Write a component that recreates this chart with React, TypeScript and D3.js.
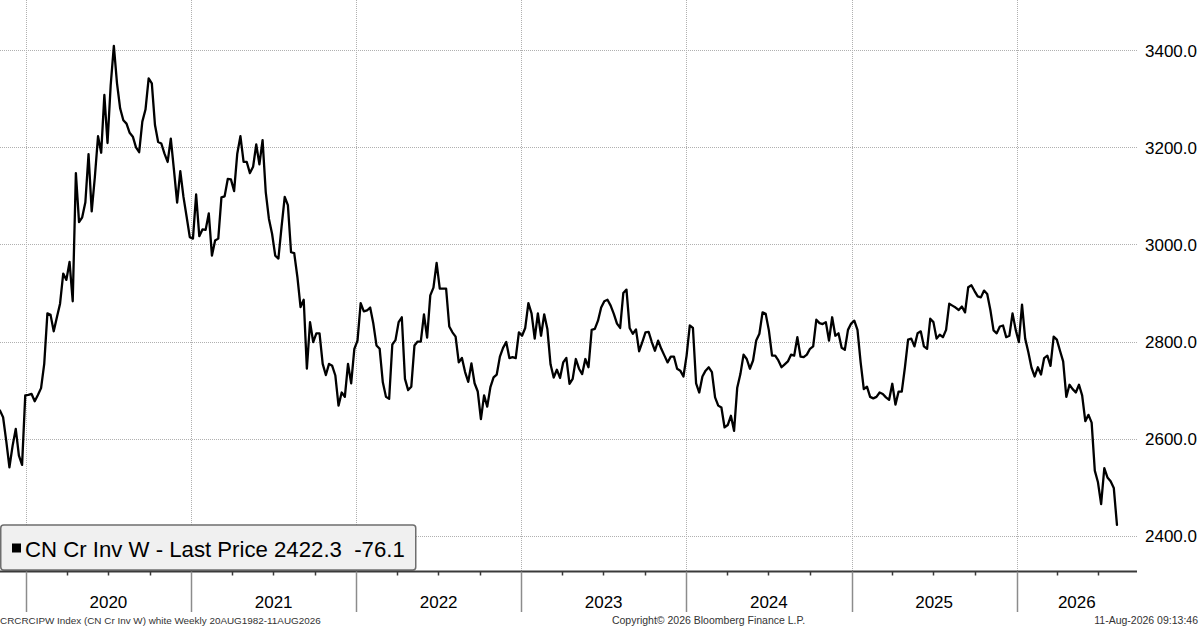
import * as d3 from 'd3'

// weekly closes, CN Cr Inv W (CRCRCIPW Index)
const firstWeek = Date.UTC(2019, 10, 5)
const tail2019 = [2658, 2644, 2595, 2541, 2585, 2620, 2565, 2546, 2689]
const values2020 = [2690, 2692, 2677, 2690, 2704, 2754, 2858, 2855, 2821, 2850, 2878, 2940, 2927, 2964, 2883, 3147, 3046, 3056, 3087, 3186, 3068, 3139, 3223, 3189, 3308, 3209, 3328, 3409, 3332, 3280, 3256, 3249, 3230, 3222, 3200, 3190, 3253, 3278, 3342, 3332, 3246, 3211, 3208, 3187, 3170, 3218, 3153, 3086, 3151, 3098, 3057, 3015]
const values2021 = [3012, 3103, 3017, 3031, 3030, 3064, 2977, 3008, 3012, 3097, 3099, 3135, 3134, 3110, 3187, 3223, 3170, 3170, 3147, 3160, 3206, 3165, 3215, 3108, 3053, 3022, 2977, 2971, 3036, 3098, 3081, 2984, 2982, 2933, 2871, 2886, 2744, 2840, 2799, 2817, 2817, 2754, 2731, 2754, 2750, 2730, 2668, 2695, 2686, 2754, 2714, 2785]
const values2022 = [2802, 2879, 2862, 2864, 2870, 2837, 2792, 2785, 2716, 2686, 2682, 2794, 2803, 2840, 2850, 2723, 2700, 2707, 2792, 2800, 2800, 2856, 2808, 2895, 2911, 2962, 2909, 2909, 2909, 2831, 2819, 2810, 2757, 2766, 2737, 2717, 2755, 2714, 2697, 2640, 2689, 2666, 2706, 2726, 2732, 2769, 2787, 2799, 2766, 2768, 2766, 2819]
const values2023 = [2812, 2828, 2879, 2858, 2806, 2858, 2812, 2856, 2826, 2753, 2726, 2742, 2725, 2757, 2766, 2713, 2723, 2764, 2744, 2733, 2764, 2747, 2824, 2826, 2843, 2870, 2883, 2886, 2874, 2857, 2837, 2828, 2900, 2907, 2828, 2816, 2825, 2780, 2799, 2819, 2820, 2799, 2781, 2802, 2785, 2771, 2757, 2769, 2769, 2744, 2740, 2728]
const values2024 = [2771, 2833, 2828, 2714, 2695, 2728, 2740, 2747, 2737, 2685, 2668, 2664, 2623, 2628, 2647, 2616, 2705, 2733, 2773, 2764, 2744, 2761, 2802, 2816, 2860, 2857, 2823, 2771, 2771, 2761, 2747, 2753, 2759, 2773, 2771, 2809, 2769, 2768, 2773, 2785, 2790, 2845, 2838, 2836, 2840, 2802, 2850, 2812, 2817, 2787, 2783, 2824, 2837]
const values2025 = [2843, 2824, 2757, 2702, 2707, 2686, 2683, 2686, 2695, 2692, 2685, 2680, 2713, 2670, 2697, 2697, 2747, 2804, 2806, 2790, 2817, 2821, 2790, 2785, 2847, 2840, 2806, 2814, 2809, 2824, 2878, 2874, 2870, 2865, 2872, 2860, 2912, 2916, 2904, 2893, 2891, 2905, 2898, 2865, 2823, 2817, 2831, 2833, 2809, 2812, 2858, 2824]
const values2026 = [2799, 2876, 2806, 2778, 2746, 2728, 2747, 2732, 2766, 2771, 2750, 2810, 2804, 2781, 2759, 2686, 2711, 2702, 2695, 2711, 2689, 2636, 2649, 2633, 2534, 2510, 2465, 2539, 2520, 2512, 2498.4, 2422.3]

const yTicks = [2400, 2600, 2800, 3000, 3200, 3400]
const seriesName = 'CN Cr Inv W - Last Price'
const footerLeft = 'CRCRCIPW Index (CN Cr Inv W) white Weekly 20AUG1982-11AUG2026'
const footerCenter = 'Copyright\u00a9 2026 Bloomberg Finance L.P.'
const footerRight = '11-Aug-2026 09:13:46'

const allValues = [
  ...tail2019, ...values2020, ...values2021, ...values2022,
  ...values2023, ...values2024, ...values2025, ...values2026
]
const series = allValues.map((v, i) => ({
  date: d3.utcDay.offset(new Date(firstWeek), i * 7),
  value: v
}))

const W = 1200
const H = 627
const plotRight = 1137
const axisY = 571.5
const font = '"Liberation Sans", Arial, sans-serif'

export default function App() {
  const x = d3.scaleUtc()
    .domain([new Date(Date.UTC(2020, 0, 1)), new Date(Date.UTC(2026, 0, 1))])
    .range([25.7, 1016.6])
  const y = d3.scaleLinear().domain([2400, 3400]).range([535.7, 50.3])

  const visStart = x.invert(0)
  const visEnd = x.invert(plotRight)
  const years = d3.utcYear.range(d3.utcYear.ceil(visStart), visEnd)
  const quarters = d3.utcMonth.every(3)!.range(visStart, visEnd)
    .filter(d => d.getUTCMonth() !== 0)

  const line = d3.line<{ date: Date; value: number }>()
    .x(d => x(d.date))
    .y(d => y(d.value))

  const last = allValues[allValues.length - 1]
  const change = last - allValues[allValues.length - 2]

  // year label centred in its visible span
  const yearLabels = years.map((d, i) => {
    const a = x(d)
    const b = i < years.length - 1 ? x(years[i + 1]) : plotRight
    return { label: d.getUTCFullYear(), cx: (a + b) / 2 }
  })

  const snap = (v: number) => Math.round(v) + 0.5

  return (
    <svg width={W} height={H} style={{ position: 'absolute', left: 0, top: 0, background: '#fff' }}
      fontFamily={font}>
      <rect width={W} height={H} fill="#fff" />
      {/* grid */}
      {yTicks.map(t => (
        <line key={'h' + t} x1={0} x2={plotRight} y1={snap(y(t))} y2={snap(y(t))}
          stroke="#b0b0b0" strokeDasharray="1,1" />
      ))}
      {years.map(d => (
        <line key={'v' + d.getTime()} x1={snap(x(d))} x2={snap(x(d))} y1={0} y2={axisY}
          stroke="#b0b0b0" strokeDasharray="1,1" />
      ))}
      {/* price line */}
      <path d={line(series) ?? ''} fill="none" stroke="#000" strokeWidth={2.3}
        strokeLinejoin="round" strokeLinecap="round" />
      {/* right axis labels */}
      {yTicks.map(t => (
        <text key={'yl' + t} x={1145} y={y(t) + 6.5} fontSize={17} fill="#000">
          {t.toFixed(1)}
        </text>
      ))}
      {/* legend */}
      <rect x={0.75} y={525} width={415} height={45} rx={3} fill="#f0f0f0" stroke="#6e6e6e" strokeWidth={1.5} />
      <rect x={12} y={543.5} width={9} height={9} fill="#000" />
      <text x={25} y={556.5} fontSize={22.2} fill="#000" style={{ whiteSpace: 'pre' }}>
        {`${seriesName} ${last.toFixed(1)}  ${change.toFixed(1)}`}
      </text>
      {/* x axis */}
      <line x1={0} x2={plotRight} y1={axisY} y2={axisY} stroke="#3a3a3a" strokeWidth={2} />
      {quarters.map(d => (
        <line key={'q' + d.getTime()} x1={snap(x(d))} x2={snap(x(d))} y1={axisY} y2={axisY + 4}
          stroke="#3a3a3a" strokeWidth={1.5} />
      ))}
      {years.map(d => (
        <line key={'ys' + d.getTime()} x1={snap(x(d))} x2={snap(x(d))} y1={axisY} y2={612}
          stroke="#8c8c8c" strokeWidth={1.5} />
      ))}
      {yearLabels.map(l => (
        <text key={'yr' + l.label} x={l.cx} y={608} fontSize={17} textAnchor="middle" fill="#000">
          {l.label}
        </text>
      ))}
      {/* footer */}
      <text x={0} y={624} fontSize={9.9} fill="#333">{footerLeft}</text>
      <text x={708.5} y={624} fontSize={10.5} fill="#333" textAnchor="middle">{footerCenter}</text>
      <text x={1198} y={624} fontSize={10.5} fill="#333" textAnchor="end">{footerRight}</text>
    </svg>
  )
}
